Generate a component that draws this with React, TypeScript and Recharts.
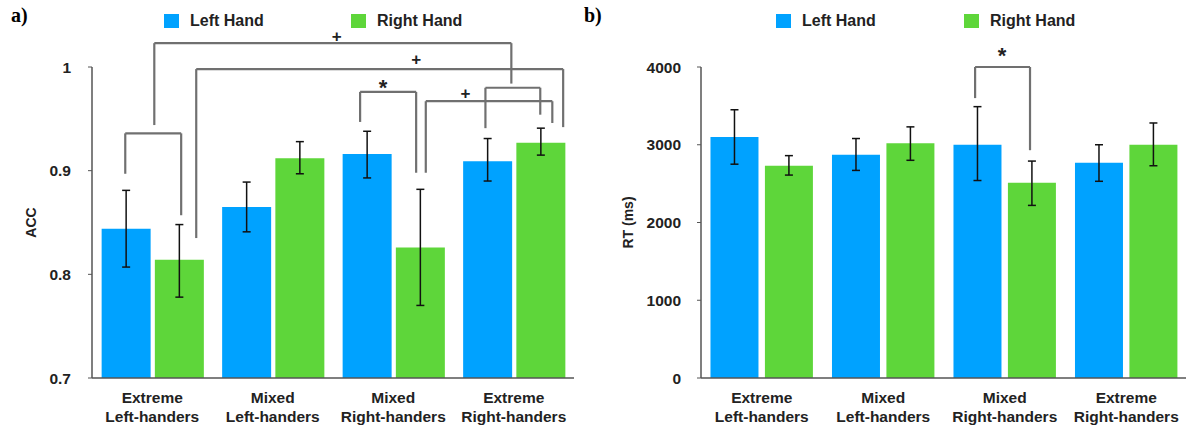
import React from "react";
import {
  BarChart,
  Bar,
  XAxis,
  YAxis,
  ErrorBar,
  Legend,
  ReferenceLine,
  ReferenceDot,
} from "recharts";

const groups = [
  "Extreme\nLeft-handers",
  "Mixed\nLeft-handers",
  "Mixed\nRight-handers",
  "Extreme\nRight-handers",
];

// accuracy (ACC)
const accLeft = [0.844, 0.865, 0.916, 0.909];
const accLeftLow = [0.807, 0.841, 0.893, 0.89];
const accLeftHigh = [0.881, 0.889, 0.938, 0.931];
const accRight = [0.814, 0.912, 0.826, 0.927];
const accRightLow = [0.778, 0.897, 0.77, 0.915];
const accRightHigh = [0.848, 0.928, 0.882, 0.941];
const accTicks = [0.7, 0.8, 0.9, 1];

// reaction time (ms)
const rtLeft = [3100, 2870, 3000, 2770];
const rtLeftLow = [2750, 2670, 2540, 2530];
const rtLeftHigh = [3450, 3080, 3490, 3000];
const rtRight = [2730, 3020, 2510, 3000];
const rtRightLow = [2610, 2800, 2220, 2730];
const rtRightHigh = [2860, 3230, 2790, 3280];
const rtTicks = [0, 1000, 2000, 3000, 4000];

// significance brackets, x in group units (0..4), y in data units
// [x1, x2, top, foot1, foot2]
const accBrackets = [
  [0.517, 3.48, 1.023, 0.944, 0.984],
  [0.865, 3.91, 0.998, 0.835, 0.942],
  [2.225, 2.69, 0.976, 0.947, 0.898],
  [2.77, 3.82, 0.967, 0.898, 0.946],
  [3.265, 3.72, 0.98, 0.941, 0.954],
  [0.276, 0.74, 0.936, 0.897, 0.857],
];
// [x, y, mark]
const accMarks: [number, number, string][] = [
  [2.03, 1.03, "+"],
  [2.69, 1.008, "+"],
  [2.415, 0.985, "*"],
  [3.1, 0.975, "+"],
];
const rtBrackets = [[2.256, 2.708, 4000, 3600, 2930]];
const rtMarks: [number, number, string][] = [[2.477, 4220, "*"]];

const BLUE = "#00a2ff";
const GREEN = "#5ed63a";
const FONT = "'Liberation Sans', Arial, sans-serif";

const accData = groups.map((g, i) => ({
  group: g,
  pos: i + 0.5,
  left: accLeft[i],
  leftErr: [accLeft[i] - accLeftLow[i], accLeftHigh[i] - accLeft[i]],
  right: accRight[i],
  rightErr: [accRight[i] - accRightLow[i], accRightHigh[i] - accRight[i]],
}));

const rtData = groups.map((g, i) => ({
  group: g,
  pos: i + 0.5,
  left: rtLeft[i],
  leftErr: [rtLeft[i] - rtLeftLow[i], rtLeftHigh[i] - rtLeft[i]],
  right: rtRight[i],
  rightErr: [rtRight[i] - rtRightLow[i], rtRightHigh[i] - rtRight[i]],
}));

function GroupTick(props: any) {
  const { x, y, payload } = props;
  const lines = String(payload.value).split("\n");
  return (
    <g>
      {lines.map((l, i) => (
        <text
          key={i}
          x={x}
          y={y + 23 + i * 19}
          textAnchor="middle"
          fontFamily={FONT}
          fontWeight="bold"
          fontSize={15.5}
          fill="#222"
        >
          {l}
        </text>
      ))}
    </g>
  );
}

function makeLegend(itemWidth: number) {
  return (props: any) => (
    <div style={{ display: "flex", fontFamily: FONT }}>
      {(props.payload || []).map((p: any) => (
        <div
          key={p.value}
          style={{ width: itemWidth, display: "flex", alignItems: "center" }}
        >
          <span
            style={{
              display: "inline-block",
              width: 15,
              height: 14,
              background: p.color,
              marginRight: 11,
            }}
          />
          <span style={{ fontSize: 16, fontWeight: "bold", color: "#222" }}>
            {p.value}
          </span>
        </div>
      ))}
    </div>
  );
}

function renderBrackets(list: number[][], stroke: string) {
  const out: React.ReactNode[] = [];
  list.forEach((b, i) => {
    const [x1, x2, top, f1, f2] = b;
    const common = {
      xAxisId: "pos",
      stroke,
      strokeWidth: 2.2,
      ifOverflow: "visible" as const,
    };
    out.push(
      <ReferenceLine key={`h${i}`} {...common} segment={[{ x: x1, y: top }, { x: x2, y: top }]} />,
      <ReferenceLine key={`l${i}`} {...common} segment={[{ x: x1, y: top }, { x: x1, y: f1 }]} />,
      <ReferenceLine key={`r${i}`} {...common} segment={[{ x: x2, y: top }, { x: x2, y: f2 }]} />
    );
  });
  return out;
}

function renderMarks(list: [number, number, string][]) {
  return list.map(([x, y, m], i) => (
    <ReferenceDot
      key={`m${i}`}
      xAxisId="pos"
      x={x}
      y={y}
      r={0}
      ifOverflow="visible"
      label={{
        value: m,
        position: "center",
        fontFamily: FONT,
        fontWeight: "bold",
        fontSize: m === "*" ? 22 : 17,
        fill: "#222",
        dy: m === "*" ? 5 : 0,
      }}
    />
  ));
}

const axisStroke = "#555";
const bracketStroke = "#707070";
const panelLabel: React.CSSProperties = {
  position: "absolute",
  top: 4,
  fontFamily: "'Liberation Serif', 'Times New Roman', serif",
  fontWeight: "bold",
  fontSize: 20,
};

export default function App() {
  return (
    <div
      style={{
        position: "absolute",
        left: 0,
        top: 0,
        width: 1186,
        height: 427,
        overflow: "hidden",
        background: "#fff",
      }}
    >
      <div style={{ ...panelLabel, left: 11 }}>a)</div>
      <div style={{ ...panelLabel, left: 584 }}>b)</div>

      <div style={{ position: "absolute", left: 0, top: 0 }}>
        <BarChart
          width={600}
          height={427}
          data={accData}
          margin={{ top: 67, right: 26, bottom: 0, left: 0 }}
          barCategoryGap="8%"
          barGap="3.5%"
        >
          <XAxis
            dataKey="group"
            axisLine={{ stroke: axisStroke, strokeWidth: 1.5 }}
            tickLine={false}
            tickSize={0}
            height={49}
            interval={0}
            tick={<GroupTick />}
          />
          <XAxis xAxisId="pos" dataKey="pos" type="number" domain={[0, 4]} allowDataOverflow hide />
          <YAxis
            domain={[0.7, 1]}
            ticks={accTicks}
            width={92}
            axisLine={{ stroke: axisStroke, strokeWidth: 1.5 }}
            tickLine={{ stroke: axisStroke }}
            tickSize={4}
            tickMargin={17}
            tick={{ fontFamily: FONT, fontWeight: "bold", fontSize: 15.5, fill: "#222" }}
            label={{
              value: "ACC",
              angle: -90,
              position: "center",
              dx: -15,
              fontFamily: FONT,
              fontWeight: "bold",
              fontSize: 14,
              fill: "#222",
            }}
          />
          <Legend
            layout="vertical"
            align="center"
            verticalAlign="middle"
            wrapperStyle={{ top: 12, left: 164, width: 400 }}
            content={makeLegend(187)}
          />
          <Bar dataKey="left" name="Left Hand" fill={BLUE} isAnimationActive={false}>
            <ErrorBar dataKey="leftErr" direction="y" width={4} stroke="#111" strokeWidth={1.5} />
          </Bar>
          <Bar dataKey="right" name="Right Hand" fill={GREEN} isAnimationActive={false}>
            <ErrorBar dataKey="rightErr" direction="y" width={4} stroke="#111" strokeWidth={1.5} />
          </Bar>
          {renderBrackets(accBrackets, bracketStroke)}
          {renderMarks(accMarks)}
        </BarChart>
      </div>

      <div style={{ position: "absolute", left: 600, top: 0 }}>
        <BarChart
          width={587}
          height={427}
          data={rtData}
          margin={{ top: 67, right: 0, bottom: 0, left: 0 }}
          barCategoryGap="7.8%"
          barGap="5.3%"
        >
          <XAxis
            dataKey="group"
            axisLine={{ stroke: axisStroke, strokeWidth: 1.5 }}
            tickLine={false}
            tickSize={0}
            height={49}
            interval={0}
            tick={<GroupTick />}
          />
          <XAxis xAxisId="pos" dataKey="pos" type="number" domain={[0, 4]} allowDataOverflow hide />
          <YAxis
            domain={[0, 4000]}
            ticks={rtTicks}
            width={101}
            axisLine={{ stroke: axisStroke, strokeWidth: 1.5 }}
            tickLine={{ stroke: axisStroke }}
            tickSize={4}
            tickMargin={16}
            tick={{ fontFamily: FONT, fontWeight: "bold", fontSize: 15.5, fill: "#222" }}
            label={{
              value: "RT (ms)",
              angle: -90,
              position: "center",
              dx: -22.5,
              fontFamily: FONT,
              fontWeight: "bold",
              fontSize: 14,
              fill: "#222",
            }}
          />
          <Legend
            layout="vertical"
            align="center"
            verticalAlign="middle"
            wrapperStyle={{ top: 12, left: 176, width: 400 }}
            content={makeLegend(188)}
          />
          <Bar dataKey="left" name="Left Hand" fill={BLUE} isAnimationActive={false}>
            <ErrorBar dataKey="leftErr" direction="y" width={4} stroke="#111" strokeWidth={1.5} />
          </Bar>
          <Bar dataKey="right" name="Right Hand" fill={GREEN} isAnimationActive={false}>
            <ErrorBar dataKey="rightErr" direction="y" width={4} stroke="#111" strokeWidth={1.5} />
          </Bar>
          {renderBrackets(rtBrackets, bracketStroke)}
          {renderMarks(rtMarks)}
        </BarChart>
      </div>
    </div>
  );
}
